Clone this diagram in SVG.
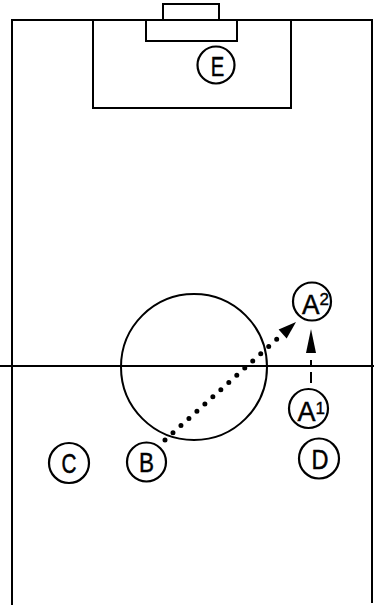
<svg xmlns="http://www.w3.org/2000/svg" width="374" height="609" viewBox="0 0 374 609">
<style>
.ln{fill:none;stroke:#000;stroke-width:2}
.nd{fill:#fff;stroke:#000;stroke-width:2.2}
.lb{font-family:"Liberation Sans",Arial,sans-serif;font-size:28px;fill:#000;stroke:#000;stroke-width:0.5;text-anchor:middle}
.ls{font-family:"Liberation Sans",Arial,sans-serif;font-size:28px;fill:#000;stroke:#000;stroke-width:0.5}
.sp{font-family:"Liberation Sans",Arial,sans-serif;font-size:17px;fill:#000;stroke:#000;stroke-width:0.4}
</style>
<defs>
<marker id="arrD" viewBox="0 0 18 12" refX="-8" refY="6" markerWidth="18" markerHeight="12" markerUnits="userSpaceOnUse" orient="auto" overflow="visible"><path d="M0 0 L18 6 L0 12 z" fill="#000"/></marker>
<marker id="arrV" viewBox="0 0 24 10" refX="0" refY="5" markerWidth="24" markerHeight="10" markerUnits="userSpaceOnUse" orient="auto"><path d="M0 0 L24 5 L0 10 z" fill="#000"/></marker>
</defs>
<rect width="374" height="609" fill="#fff"/>
<g id="field">
<path class="ln" d="M12 605 L12 20 L372 20 L372 603"/>
<path class="ln" d="M93 20 L93 108 L291 108 L291 20"/>
<path class="ln" d="M146 20 L146 41 L237 41 L237 20"/>
<path class="ln" d="M163 20 L163 4 L219 4 L219 20"/>
<path class="ln" d="M0 366 L374 366"/>
<circle class="ln" cx="194" cy="367" r="73"/>
</g>
<g id="connectors">
<path d="M165 440 L276.7 339.3" fill="none" stroke="#000" stroke-width="5" stroke-linecap="round" stroke-dasharray="0 10.74" marker-end="url(#arrD)"/>
<path d="M311 383 L311 353" fill="none" stroke="#000" stroke-width="2" stroke-dasharray="11 5 7 7" marker-end="url(#arrV)"/>
</g>
<g id="E"><circle class="nd" cx="216" cy="65" r="18.5"/><text class="lb" x="217.5" y="75.5" textLength="13.5" lengthAdjust="spacingAndGlyphs">E</text></g>
<g id="A2"><circle class="nd" cx="312" cy="301.5" r="19"/><text class="ls" x="302" y="313.5" textLength="17.5" lengthAdjust="spacingAndGlyphs">A</text><text class="sp" x="319.5" y="305">2</text></g>
<g id="A1"><circle class="nd" cx="308.5" cy="408.5" r="19.5"/><text class="ls" x="297.5" y="421" textLength="18" lengthAdjust="spacingAndGlyphs">A</text><text class="sp" x="315.5" y="413.5">1</text></g>
<g id="C"><circle class="nd" cx="69" cy="463" r="20"/><text class="lb" x="69" y="473" textLength="15" lengthAdjust="spacingAndGlyphs">C</text></g>
<g id="B"><circle class="nd" cx="146.5" cy="462" r="19.5"/><text class="lb" x="146.5" y="472" textLength="15" lengthAdjust="spacingAndGlyphs">B</text></g>
<g id="D"><circle class="nd" cx="319" cy="458.5" r="20"/><text class="lb" x="320" y="468.5" textLength="17" lengthAdjust="spacingAndGlyphs">D</text></g>
</svg>
